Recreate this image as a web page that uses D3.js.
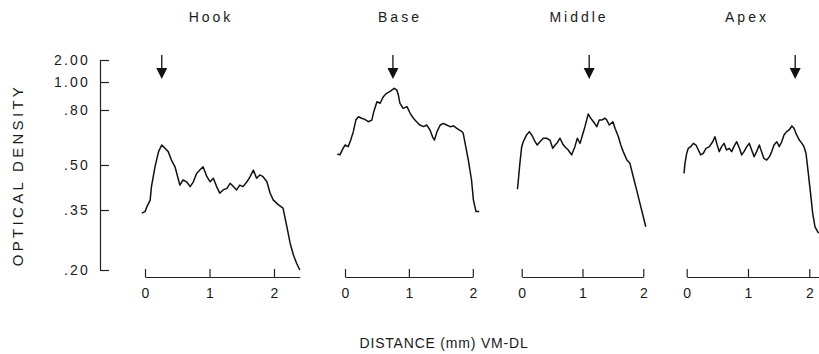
<!DOCTYPE html>
<html>
<head>
<meta charset="utf-8">
<script src="https://cdn.jsdelivr.net/npm/d3@7"></script>
<style>
  body { margin: 0; background: #fff; }
  text { font-family: "Liberation Sans", Arial, sans-serif; fill: #1a1a1a; }
</style>
</head>
<body>
<script>
// Panel names and the position of the arrow (mm) over each profile
var regions = ["Hook", "Base", "Middle", "Apex"];
var arrowAt = [0.26, 0.75, 1.11, 1.77];

// Optical density ticks
var odTicks = [0.20, 0.35, 0.50, 0.80, 1.00, 2.00];
var odLabels = [".20", ".35", ".50", ".80", "1.00", "2.00"];
var distTicks = [0, 1, 2];

// Densitometer traces, [distance mm, optical density]
var hookProfile = [
  [-0.05, 0.342], [0.00, 0.346], [0.03, 0.361], [0.08, 0.383], [0.10, 0.428], [0.155, 0.494],
  [0.21, 0.573], [0.26, 0.609], [0.31, 0.591], [0.36, 0.573], [0.41, 0.527], [0.465, 0.494],
  [0.52, 0.450], [0.54, 0.433], [0.59, 0.450], [0.645, 0.444], [0.70, 0.428], [0.75, 0.444],
  [0.80, 0.472], [0.85, 0.483], [0.90, 0.494], [0.96, 0.461], [1.01, 0.444], [1.06, 0.456],
  [1.11, 0.428], [1.16, 0.406], [1.21, 0.417], [1.27, 0.422], [1.32, 0.439], [1.37, 0.428],
  [1.42, 0.417], [1.47, 0.433], [1.52, 0.428], [1.58, 0.444], [1.63, 0.461], [1.68, 0.483],
  [1.73, 0.456], [1.78, 0.467], [1.83, 0.461], [1.89, 0.444], [1.94, 0.406], [1.99, 0.383],
  [2.07, 0.367], [2.14, 0.356], [2.20, 0.308], [2.25, 0.267], [2.30, 0.238], [2.35, 0.217],
  [2.40, 0.200]
];
var baseProfile = [
  [-0.12, 0.560], [-0.08, 0.555], [-0.03, 0.591], [0.00, 0.609], [0.05, 0.600], [0.09, 0.636],
  [0.13, 0.682], [0.17, 0.745], [0.21, 0.763], [0.26, 0.755], [0.31, 0.749], [0.365, 0.736],
  [0.42, 0.745], [0.45, 0.791], [0.50, 0.859], [0.55, 0.848], [0.60, 0.895], [0.65, 0.919],
  [0.70, 0.931], [0.77, 0.955], [0.81, 0.943], [0.835, 0.907], [0.86, 0.848], [0.91, 0.812],
  [0.97, 0.824], [1.02, 0.782], [1.07, 0.755], [1.12, 0.736], [1.17, 0.718], [1.23, 0.709],
  [1.28, 0.718], [1.33, 0.691], [1.37, 0.654], [1.40, 0.636], [1.44, 0.682], [1.49, 0.718],
  [1.54, 0.727], [1.59, 0.718], [1.645, 0.709], [1.70, 0.713], [1.75, 0.700], [1.83, 0.682],
  [1.85, 0.673], [1.88, 0.618], [1.93, 0.527], [1.98, 0.450], [2.01, 0.383], [2.05, 0.346],
  [2.10, 0.346]
];
var middleProfile = [
  [-0.07, 0.419], [-0.055, 0.450], [-0.03, 0.509], [0.00, 0.600], [0.026, 0.627], [0.08, 0.664],
  [0.125, 0.682], [0.165, 0.664], [0.22, 0.627], [0.255, 0.609], [0.30, 0.627], [0.355, 0.646],
  [0.41, 0.646], [0.465, 0.636], [0.51, 0.591], [0.55, 0.609], [0.585, 0.622], [0.63, 0.646],
  [0.675, 0.615], [0.71, 0.600], [0.765, 0.582], [0.82, 0.555], [0.875, 0.600], [0.915, 0.646],
  [0.96, 0.618], [1.00, 0.664], [1.04, 0.709], [1.095, 0.778], [1.135, 0.755], [1.18, 0.736],
  [1.235, 0.709], [1.275, 0.745], [1.315, 0.745], [1.37, 0.755], [1.40, 0.745], [1.44, 0.718],
  [1.50, 0.736], [1.535, 0.700], [1.59, 0.654], [1.63, 0.609], [1.67, 0.573], [1.73, 0.527],
  [1.78, 0.509], [1.835, 0.461], [1.89, 0.417], [1.945, 0.372], [2.00, 0.333], [2.04, 0.308]
];
var apexProfile = [
  [-0.044, 0.472], [-0.028, 0.509], [0.00, 0.564], [0.026, 0.591], [0.065, 0.600], [0.108, 0.618],
  [0.152, 0.609], [0.19, 0.582], [0.228, 0.555], [0.27, 0.564], [0.315, 0.591], [0.37, 0.600],
  [0.424, 0.627], [0.46, 0.654], [0.49, 0.618], [0.53, 0.573], [0.57, 0.600], [0.61, 0.618],
  [0.65, 0.582], [0.695, 0.591], [0.734, 0.573], [0.77, 0.600], [0.815, 0.627], [0.86, 0.591],
  [0.897, 0.555], [0.935, 0.573], [0.98, 0.600], [1.02, 0.618], [1.06, 0.582], [1.10, 0.545],
  [1.14, 0.573], [1.185, 0.609], [1.22, 0.573], [1.26, 0.536], [1.305, 0.527], [1.35, 0.545],
  [1.387, 0.573], [1.424, 0.609], [1.47, 0.627], [1.51, 0.600], [1.55, 0.627], [1.587, 0.664],
  [1.63, 0.682], [1.67, 0.691], [1.716, 0.713], [1.75, 0.700], [1.794, 0.664], [1.837, 0.636],
  [1.88, 0.618], [1.913, 0.600], [1.946, 0.564], [1.984, 0.472], [2.02, 0.406], [2.055, 0.342],
  [2.093, 0.308], [2.15, 0.292]
];
var profiles = [hookProfile, baseProfile, middleProfile, apexProfile];

window.onload = function(){
    var svg = d3.select('body')
        .append('svg')
        .attr('width', 819)
        .attr('height', 354);

    // the density axis is not log or linear, it's the chart paper's own scale
    var y = d3.scaleLinear()
        .domain(odTicks)
        .range([270, 210, 165, 110, 82, 60]);

    var yAxis = d3.axisLeft(y)
        .tickValues(odTicks)
        .tickFormat(function(d, i){ return odLabels[i]; })
        .tickSize(-9)
        .tickSizeOuter(0)
        .tickPadding(10);

    svg.append('g')
        .attr('transform', 'translate(100,0)')
        .call(yAxis)
        .call(function(g){
            g.select('.domain').attr('stroke', '#222').attr('stroke-width', 1.2);
            g.selectAll('.tick line').attr('stroke', '#222').attr('stroke-width', 1.2);
            g.selectAll('.tick text')
                .style('font-family', '"Liberation Sans", Arial, sans-serif')
                .style('font-size', '14px')
                .style('letter-spacing', '2.2px')
                .attr('fill', '#1a1a1a');
        });

    // layout of the four panels (pixel start, px per mm, axis end in mm, title x)
    var layout = [
        {x0: 145, ppm: 64.5, end: 2.4, titleX: 211},
        {x0: 345, ppm: 63.9, end: 2.0, titleX: 400},
        {x0: 521.7, ppm: 60.8, end: 2.0, titleX: 579},
        {x0: 686.7, ppm: 61.3, end: 2.2, titleX: 747}
    ];

    regions.forEach(function(name, i){
        var p = layout[i];
        var x = d3.scaleLinear()
            .domain([0, p.end])
            .range([p.x0, p.x0 + p.end * p.ppm]);

        var xAxis = d3.axisBottom(x)
            .tickValues(distTicks)
            .tickFormat(d3.format('d'))
            .tickSize(-8)
            .tickSizeOuter(0)
            .tickPadding(11);

        svg.append('g')
            .attr('transform', 'translate(0,277)')
            .call(xAxis)
            .call(function(g){
                g.select('.domain').attr('stroke', '#222').attr('stroke-width', 1.2);
                g.selectAll('.tick line').attr('stroke', '#222').attr('stroke-width', 1.2);
                g.selectAll('.tick text')
                    .style('font-family', '"Liberation Sans", Arial, sans-serif')
                    .style('font-size', '14px')
                    .attr('fill', '#1a1a1a');
            });

        // density trace
        var line = d3.line()
            .x(function(d){ return x(d[0]); })
            .y(function(d){ return y(d[1]); });

        svg.append('path')
            .datum(profiles[i])
            .attr('d', line)
            .attr('fill', 'none')
            .attr('stroke', '#111')
            .attr('stroke-width', 1.5)
            .attr('stroke-linejoin', 'round');

        // arrow: thin shaft plus solid head
        var ax = x(arrowAt[i]);
        svg.append('line')
            .attr('x1', ax).attr('x2', ax)
            .attr('y1', 55).attr('y2', 70)
            .attr('stroke', '#111')
            .attr('stroke-width', 1.3);
        svg.append('path')
            .attr('d', 'M' + (ax - 5.5) + ',68 L' + (ax + 5.5) + ',68 L' + ax + ',79 Z')
            .attr('fill', '#111');

        svg.append('text')
            .attr('x', p.titleX)
            .attr('y', 22)
            .attr('text-anchor', 'middle')
            .style('font-size', '14px')
            .style('letter-spacing', '3px')
            .text(name);
    });

    // axis titles
    svg.append('text')
        .attr('transform', 'translate(23,175) rotate(-90)')
        .attr('text-anchor', 'middle')
        .style('font-size', '15px')
        .style('letter-spacing', '3.3px')
        .text('OPTICAL DENSITY');

    svg.append('text')
        .attr('x', 444)
        .attr('y', 348)
        .attr('text-anchor', 'middle')
        .style('font-size', '14px')
        .style('letter-spacing', '0.8px')
        .text('DISTANCE (mm) VM-DL');
};
</script>
</body>
</html>
